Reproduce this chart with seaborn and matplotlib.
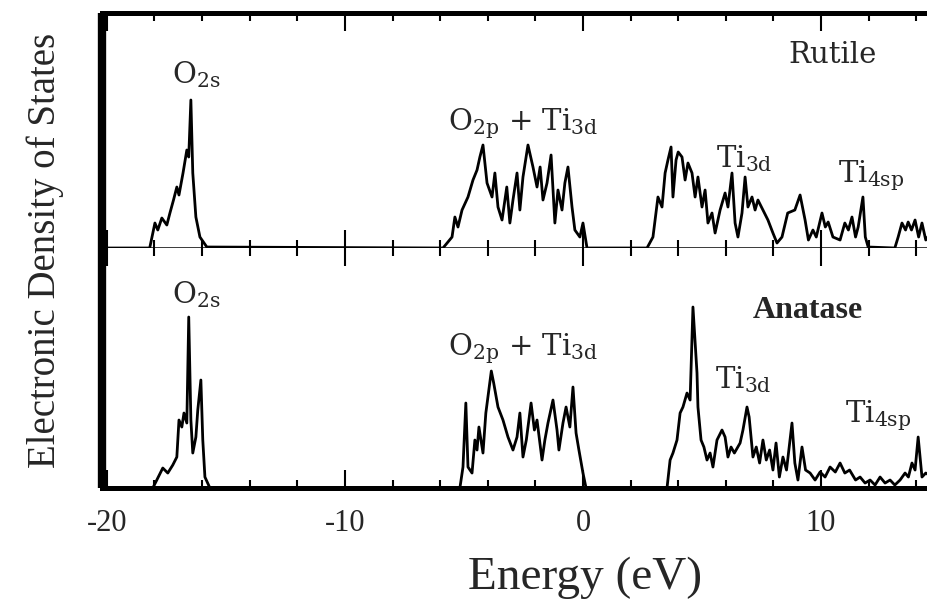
import numpy as np
import pandas as pd
import matplotlib
matplotlib.use("Agg")
import matplotlib.pyplot as plt
import seaborn as sns
from matplotlib.ticker import MultipleLocator

# ---------------- data (DOS in arbitrary units) ----------------
rutile_o2s_E = [-18.2, -17.98, -17.86, -17.69, -17.48, -17.35, -17.2, -17.06, -16.97, -16.8,
                -16.64, -16.56, -16.47, -16.39, -16.26, -16.09, -15.8]
rutile_o2s_dos = [0, 25, 18, 30, 23, 35, 48, 61, 53, 75, 98, 91, 148, 75, 31, 11, 1]

rutile_vb_E = [-5.88, -5.5, -5.38, -5.25, -5.08, -4.83, -4.62, -4.45, -4.33, -4.2, -4.03, -3.82,
               -3.7, -3.57, -3.4, -3.2, -3.07, -2.94, -2.77, -2.65, -2.52, -2.31, -2.1, -1.93,
               -1.8, -1.68, -1.51, -1.34, -1.18, -1.05, -0.88, -0.76, -0.63, -0.46, -0.34,
               -0.13, 0.0, 0.17]
rutile_vb_dos = [0, 11, 31, 21, 38, 51, 68, 78, 91, 103, 65, 51, 75, 41, 28, 61, 25, 48, 75, 38,
                 71, 103, 81, 61, 81, 48, 65, 93, 25, 58, 38, 65, 81, 41, 18, 11, 25, 0]

rutile_cb_E = [2.69, 2.94, 3.15, 3.32, 3.45, 3.57, 3.7, 3.78, 3.91, 4.0, 4.16, 4.29, 4.41, 4.58,
               4.71, 4.83, 5.0, 5.13, 5.25, 5.42, 5.55, 5.76, 5.97, 6.09, 6.26, 6.39, 6.51, 6.68,
               6.81, 6.93, 7.1, 7.23, 7.35, 7.56, 7.77, 7.98, 8.15, 8.36, 8.6, 8.9, 9.12, 9.33,
               9.47, 9.66, 9.8, 10.04, 10.18, 10.3, 10.5, 10.8, 11.0, 11.15, 11.3, 11.45, 11.56,
               11.76, 11.86, 11.98]
rutile_cb_dos = [0, 11, 51, 41, 75, 88, 101, 51, 88, 96, 91, 68, 85, 75, 51, 71, 41, 58, 25, 35,
                 15, 38, 55, 41, 75, 25, 11, 35, 71, 41, 51, 38, 48, 38, 28, 15, 5, 11, 35, 38,
                 53, 28, 8, 18, 11, 35, 21, 26, 11, 8, 25, 18, 31, 11, 21, 51, 11, 1]

rutile_hi_E = [13.1, 13.24, 13.4, 13.55, 13.66, 13.8, 13.95, 14.1, 14.24, 14.4, 14.6]
rutile_hi_dos = [0, 11, 25, 18, 26, 18, 28, 11, 25, 8, 15]

anatase_o2s_E = [-18.07, -17.86, -17.65, -17.44, -17.23, -17.06, -16.97, -16.85, -16.76, -16.64,
                 -16.56, -16.47, -16.39, -16.26, -16.18, -16.05, -15.97, -15.88, -15.67]
anatase_o2s_dos = [0, 10, 20, 15, 23, 31, 68, 61, 75, 65, 171, 68, 35, 51, 78, 108, 48, 11, 0]

anatase_vb_E = [-5.17, -5.04, -4.92, -4.83, -4.66, -4.54, -4.45, -4.37, -4.2, -4.08, -3.85, -3.75,
                -3.57, -3.36, -3.15, -2.94, -2.77, -2.65, -2.52, -2.38, -2.18, -2.04, -1.93,
                -1.72, -1.6, -1.47, -1.26, -1.09, -1.01, -0.84, -0.71, -0.55, -0.42, -0.29,
                -0.17, 0.0, 0.13]
anatase_vb_dos = [0, 21, 85, 21, 15, 48, 38, 61, 35, 75, 117, 105, 81, 68, 51, 38, 51, 75, 31, 48,
                  85, 58, 68, 28, 48, 65, 88, 58, 38, 65, 81, 61, 101, 55, 38, 15, 0]

anatase_cb_E = [3.53, 3.66, 3.78, 3.95, 4.08, 4.2, 4.37, 4.5, 4.62, 4.79, 4.83, 4.96, 5.08, 5.21,
                5.34, 5.46, 5.63, 5.84, 5.97, 6.09, 6.22, 6.36, 6.6, 6.72, 6.89, 6.98, 7.14, 7.28,
                7.42, 7.56, 7.7, 7.84, 7.98, 8.11, 8.25, 8.4, 8.55, 8.78, 8.9, 9.03, 9.2, 9.35,
                9.54, 9.75, 9.96, 10.17, 10.38, 10.6, 10.8, 11.0, 11.2, 11.45, 11.64, 11.85,
                12.06, 12.27, 12.48, 12.69, 12.9, 13.1, 13.32, 13.53, 13.67, 13.82, 13.95, 14.08,
                14.24, 14.4, 14.6]
anatase_cb_dos = [0, 28, 35, 48, 75, 81, 95, 88, 181, 115, 81, 48, 41, 28, 35, 21, 48, 58, 51, 31,
                  41, 35, 45, 58, 81, 71, 31, 41, 25, 48, 28, 38, 18, 45, 11, 31, 18, 65, 25, 8,
                  41, 18, 15, 8, 16, 11, 21, 16, 25, 15, 18, 8, 11, 5, 8, 3, 11, 5, 8, 3, 8, 15,
                  11, 25, 18, 51, 11, 15, 12]

x_ticks = [-20, -10, 0, 10]
x_tick_labels = ["-20", "-10", "0", "10"]


def build(pairs):
    E = [-20.2]
    D = [0]
    for e, d in pairs:
        assert len(e) == len(d)
        E += list(e)
        D += list(d)
    return pd.DataFrame({"Energy": E, "DOS": D})


rutile = build([(rutile_o2s_E, rutile_o2s_dos), (rutile_vb_E, rutile_vb_dos),
                (rutile_cb_E, rutile_cb_dos), (rutile_hi_E, rutile_hi_dos)])
anatase = build([(anatase_o2s_E, anatase_o2s_dos), (anatase_vb_E, anatase_vb_dos),
                 (anatase_cb_E, anatase_cb_dos)])

# ---------------- style ----------------
sns.set_style("white")
plt.rcParams["font.family"] = ["Liberation Serif", "DejaVu Serif"]
plt.rcParams["mathtext.fontset"] = "dejavuserif"

fig = plt.figure(figsize=(9.28, 6.07), dpi=100)
ax_top = fig.add_axes([0.11, 0.5914, 0.903, 0.3872])
ax_bot = fig.add_axes([0.11, 0.196, 0.903, 0.3954])

sns.lineplot(data=rutile, x="Energy", y="DOS", ax=ax_top, color="black", lw=2.0,
             estimator=None, sort=False)
sns.lineplot(data=anatase, x="Energy", y="DOS", ax=ax_bot, color="black", lw=2.0,
             estimator=None, sort=False)

ax_top.set_ylim(0, 235)
ax_bot.set_ylim(0, 240)

for ax in (ax_top, ax_bot):
    ax.set_xlim(-20.2, 15)
    ax.set_xticks(x_ticks)
    ax.xaxis.set_minor_locator(MultipleLocator(2))
    ax.set_yticks([])
    ax.set_xlabel("")
    ax.set_ylabel("")
    ax.spines["right"].set_visible(False)
    ax.spines["left"].set_linewidth(6)
    ax.spines["left"].set_capstyle("butt")
    ax.tick_params(axis="x", which="both", direction="in", top=True, bottom=True,
                   width=1.5, color="black")
    ax.tick_params(axis="x", which="major", length=13)
    ax.tick_params(axis="x", which="minor", length=6)
    for s in ax.spines.values():
        s.set_color("black")

ax_top.spines["top"].set_linewidth(3.6)
ax_top.spines["bottom"].set_linewidth(1.8)
ax_top.tick_params(axis="x", labelbottom=False)
ax_bot.spines["top"].set_visible(False)
ax_bot.spines["bottom"].set_linewidth(3.6)
ax_bot.set_xticklabels(x_tick_labels)
ax_bot.tick_params(axis="x", which="major", labelsize=22, pad=15)

# ---------------- annotations ----------------
ann = dict(ha="left", va="baseline", fontsize=21, family="DejaVu Serif")
ax_top.text(-17.27, 165, r"O$_{\mathrm{2s}}$", **ann)
ax_top.text(-5.67, 118, r"O$_{\mathrm{2p}}$ + Ti$_{\mathrm{3d}}$", **ann)
ax_top.text(8.61, 185, "Rutile", **ann)
ax_top.text(5.59, 81, r"Ti$_{\mathrm{3d}}$", **ann)
ax_top.text(10.71, 66, r"Ti$_{\mathrm{4sp}}$", **ann)

ax_bot.text(-17.27, 185, r"O$_{\mathrm{2s}}$", **ann)
ax_bot.text(-5.67, 133, r"O$_{\mathrm{2p}}$ + Ti$_{\mathrm{3d}}$", **ann)
ax_bot.text(7.14, 170, "Anatase", ha="left", va="baseline", fontsize=23,
            fontweight="bold", family="Liberation Serif")
ax_bot.text(5.55, 100, r"Ti$_{\mathrm{3d}}$", **ann)
ax_bot.text(11.0, 66, r"Ti$_{\mathrm{4sp}}$", **ann)

fig.text(0.049, 0.588, "Electronic Density of States", rotation=90, ha="center",
         va="center", fontsize=28)
fig.text(0.630, 0.048, "Energy (eV)", ha="center", va="center", fontsize=34)

fig.savefig("out.png", dpi=100)
